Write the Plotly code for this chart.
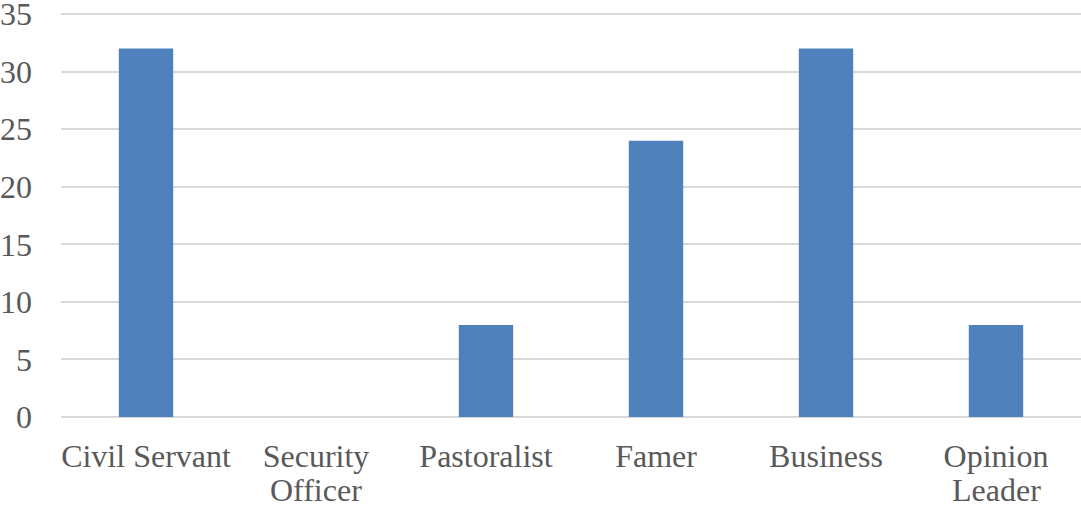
import plotly.graph_objects as go

categories = ["Civil Servant", "Security<br>Officer", "Pastoralist", "Famer", "Business", "Opinion<br>Leader"]
values = [32, 0, 8, 24, 32, 8]
y_ticks = [0, 5, 10, 15, 20, 25, 30, 35]

LABEL_FONT = dict(family="Liberation Serif, Times New Roman, serif", size=32, color="#595959")
X_STANDOFF = 17
LINE_GAP = 36  # tighter line spacing for wrapped category names

first_lines = [c.split("<br>")[0] for c in categories]
second_lines = [c.split("<br>")[1] if "<br>" in c else "" for c in categories]

fig = go.Figure(
    go.Bar(x=categories, y=values, marker=dict(color="#4f81bd", line=dict(width=0)))
)

# second line of wrapped category names
for cat, extra in zip(categories, second_lines):
    if extra:
        fig.add_annotation(
            x=cat, y=0, xref="x", yref="y",
            text=extra, showarrow=False,
            xanchor="center", yanchor="top",
            yshift=-(X_STANDOFF + LINE_GAP),
            font=LABEL_FONT,
        )

fig.update_layout(
    width=1081,
    height=508,
    margin=dict(l=61, r=0, t=10, b=91),
    paper_bgcolor="white",
    plot_bgcolor="white",
    bargap=0.68,
    showlegend=False,
    font=LABEL_FONT,
)
fig.update_xaxes(
    tickvals=categories,
    ticktext=first_lines,
    showgrid=False,
    showline=False,
    ticks="",
    tickfont=LABEL_FONT,
    ticklabelstandoff=X_STANDOFF,
    automargin=False,
)
fig.update_yaxes(
    range=[0, 35.35],
    tickvals=y_ticks,
    showgrid=True,
    gridcolor="#d9d9d9",
    gridwidth=2,
    zeroline=True,
    zerolinecolor="#d9d9d9",
    zerolinewidth=2,
    showline=False,
    ticks="",
    tickfont=LABEL_FONT,
    ticklabelstandoff=28,
    ticklabeloverflow="allow",
    automargin=False,
)

fig.write_html("out.html")
